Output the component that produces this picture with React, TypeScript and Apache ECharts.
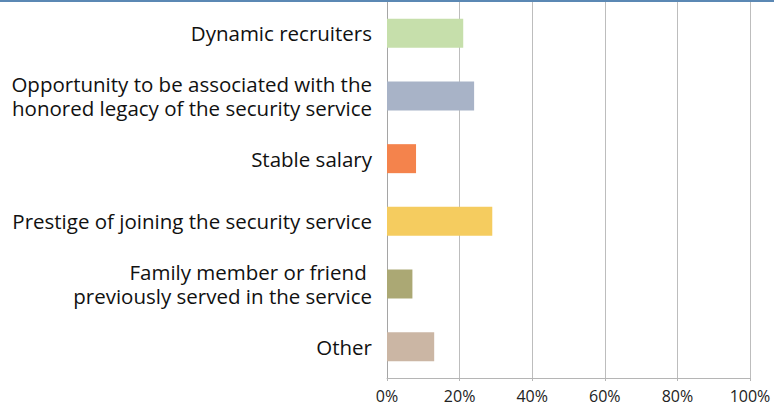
import React, { useEffect, useRef } from "react";
import * as echarts from "echarts";

const categories = [
  "Dynamic recruiters",
  "Opportunity to be associated with the\nhonored legacy of the security service",
  "Stable salary",
  "Prestige of joining the security service",
  "Family member or friend \npreviously served in the service",
  "Other",
];
const values = [21, 24, 8, 29, 7, 13];
const barColors = ["#c6dfab", "#a8b3c7", "#f4834c", "#f5cc5f", "#aba874", "#cbb6a4"];
const xTicks = { min: 0, max: 100, interval: 20 };

export default function App() {
  const ref = useRef<HTMLDivElement>(null);
  useEffect(() => {
    if (!ref.current) return;
    const chart = echarts.init(ref.current, null, { renderer: "svg" });
    const font = "'Open Sans', 'Noto Sans', sans-serif";
    chart.setOption({
      animation: false,
      textStyle: { fontFamily: font },
      grid: { left: 387, right: 24, top: 2, bottom: 28, containLabel: false },
      graphic: [
        {
          type: "rect",
          shape: { x: 0, y: 0, width: 774, height: 2 },
          style: { fill: "#5b88b4" },
          z: 100,
        },
      ],
      xAxis: {
        type: "value",
        min: xTicks.min,
        max: xTicks.max,
        interval: xTicks.interval,
        axisLine: { show: true, lineStyle: { color: "#b5b5b5", width: 1 } },
        axisTick: { show: true, length: 3, lineStyle: { color: "#b5b5b5" } },
        splitLine: { show: true, lineStyle: { color: "#bdbdbd", width: 1 } },
        axisLabel: {
          formatter: "{value}%",
          color: "#222",
          fontSize: 16,
          fontFamily: font,
          margin: 10,
        },
      },
      yAxis: {
        type: "category",
        inverse: true,
        data: categories,
        axisLine: { show: true, lineStyle: { color: "#a5a5a5", width: 1 } },
        axisTick: { show: false },
        splitLine: { show: false },
        axisLabel: {
          color: "#111",
          fontSize: 20.5,
          lineHeight: 24,
          fontFamily: font,
          margin: 15,
          align: "right",
        },
      },
      series: [
        {
          type: "bar",
          data: values.map((v, i) => ({ value: v, itemStyle: { color: barColors[i] } })),
          barWidth: 29,
        },
      ],
    });
    return () => chart.dispose();
  }, []);
  return (
    <div
      ref={ref}
      style={{ position: "absolute", left: 0, top: 0, width: 774, height: 406, background: "#fff" }}
    />
  );
}
